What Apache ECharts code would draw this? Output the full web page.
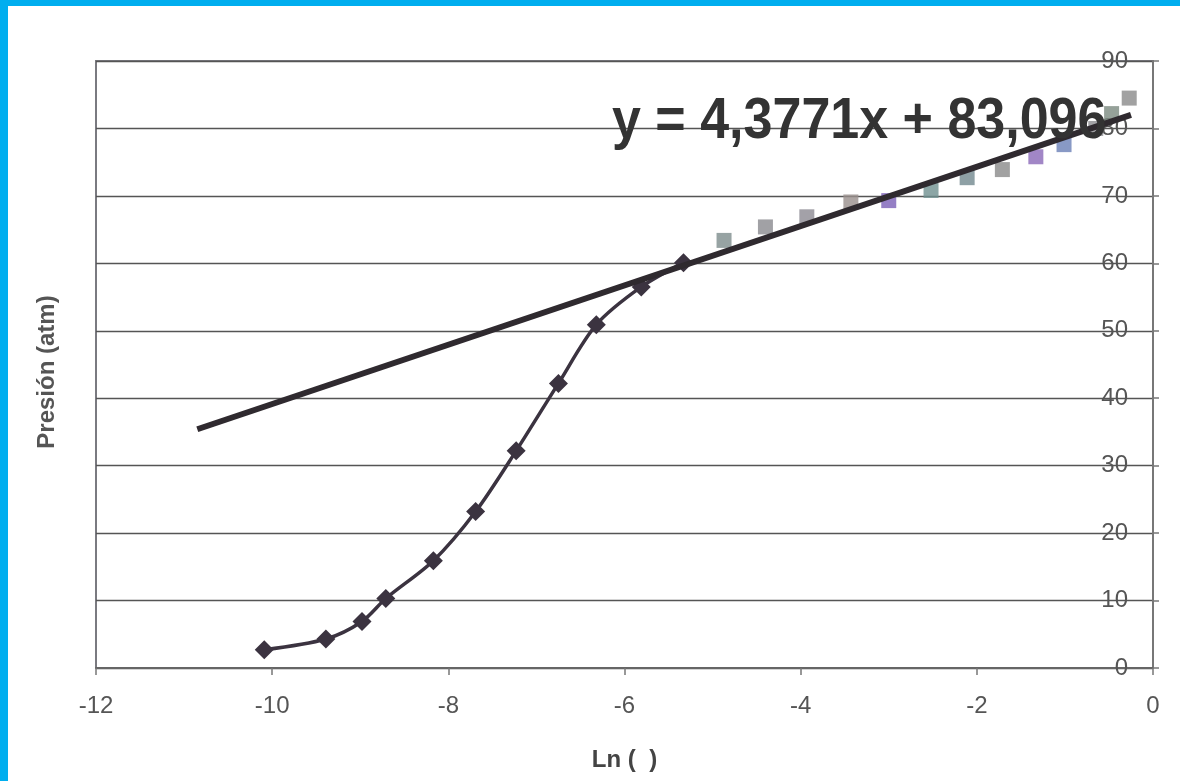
<!DOCTYPE html>
<html>
<head>
<meta charset="utf-8">
<script src="https://cdn.jsdelivr.net/npm/echarts@6/dist/echarts.min.js"></script>
<style>
  html, body { margin: 0; padding: 0; width: 1180px; height: 781px; background: #00AEEF; overflow: hidden; }
  #chart { position: absolute; left: 8px; top: 6px; width: 1172px; height: 775px; background: #ffffff; }
</style>
</head>
<body>
<div id="chart"></div>
<script>
// Curve data (diamonds): Ln(x) vs Presión
const curveX = [-10.09, -9.39, -8.98, -8.71, -8.17, -7.69, -7.23, -6.75, -6.32, -5.81, -5.33];
const curveY = [2.7, 4.3, 6.9, 10.3, 15.9, 23.2, 32.2, 42.2, 50.9, 56.5, 60.1];

// Linear region points (squares)
const linX = [-4.87, -4.40, -3.93, -3.43, -3.00, -2.52, -2.11, -1.71, -1.33, -1.01, -0.65, -0.47, -0.27];
const linY = [63.4, 65.4, 66.9, 69.1, 69.3, 70.8, 72.7, 73.9, 75.8, 77.6, 80.0, 82.2, 84.5];

// Trend line endpoints as drawn
const trendX = [-10.85, -0.25];
const trendY = [35.4, 82.0];

// Axis ticks
const xTicks = [-12, -10, -8, -6, -4, -2, 0];
const yTicks = [0, 10, 20, 30, 40, 50, 60, 70, 80, 90];

const equationText = 'y = 4,3771x + 83,096';
const xName = 'Ln (  )';
const yName = 'Presión (atm)';

// square colours (scan shows mixed tints)
const squarePalette = ['#7d8c8c', '#8a8a8e', '#8c8a92', '#998f8c', '#7b5fb6', '#6f9090', '#72888e', '#8a8a8a', '#8a68b8', '#6a80b6', '#8c8c90', '#7a8a80', '#8a8a8a'];

const chart = echarts.init(document.getElementById('chart'));

const curveData = curveX.map((x, i) => [x, curveY[i]]);
const linData = linX.map((x, i) => ({ value: [x, linY[i]], itemStyle: { color: squarePalette[i % squarePalette.length] } }));
const trendData = trendX.map((x, i) => [x, trendY[i]]);

const font = 'Arial, "Liberation Sans", sans-serif';

chart.setOption({
  animation: false,
  backgroundColor: '#ffffff',
  grid: {
    left: 88, right: 27, top: 55, bottom: 113,
    show: true, borderColor: '#7a7a80', borderWidth: 2, backgroundColor: 'transparent'
  },
  xAxis: {
    type: 'value',
    min: xTicks[0], max: xTicks[xTicks.length - 1], interval: 2,
    name: xName, nameLocation: 'middle', nameGap: 80,
    nameTextStyle: { fontFamily: font, fontWeight: 'bold', fontSize: 24, color: '#444' },
    axisLine: { show: true, onZero: false, lineStyle: { color: '#666', width: 2 } },
    axisTick: { show: true, length: 7, lineStyle: { color: '#777', width: 1.5 } },
    axisLabel: { margin: 26, fontFamily: font, fontSize: 24, color: '#555' },
    splitLine: { show: false }
  },
  yAxis: {
    type: 'value', position: 'right',
    min: yTicks[0], max: yTicks[yTicks.length - 1], interval: 10,
    axisLine: { show: true, lineStyle: { color: '#777', width: 2 } },
    axisTick: { show: true, length: 6, lineStyle: { color: '#777', width: 1.5 } },
    axisLabel: { inside: true, margin: 25, fontFamily: font, fontSize: 24, color: '#555' },
    splitLine: { show: true, lineStyle: { color: '#555', width: 1.4 } }
  },
  graphic: [
    {
      type: 'text', x: 604, y: 88, scaleY: 1.1, z: 10,
      style: { text: equationText, fontFamily: font, fontWeight: 'bold', fontSize: 52, fill: '#333' }
    },
    {
      type: 'text', x: 39, y: 366, rotation: Math.PI / 2, z: 10,
      style: { text: yName, fontFamily: font, fontWeight: 'bold', fontSize: 24, fill: '#555', align: 'center', verticalAlign: 'middle' }
    }
  ],
  series: [
    {
      name: 'curva', type: 'line', data: curveData, smooth: 0.3,
      symbol: 'diamond', symbolSize: 19,
      itemStyle: { color: '#3b3340' },
      lineStyle: { color: '#3b3340', width: 3.5 }, z: 3
    },
    {
      name: 'lineal', type: 'scatter', data: linData,
      symbol: 'rect', symbolSize: 15, z: 2
    },
    {
      name: 'tendencia', type: 'line', data: trendData, showSymbol: false, symbol: 'none',
      lineStyle: { color: '#2f2a2f', width: 6 }, z: 4
    }
  ]
});
</script>
</body>
</html>
